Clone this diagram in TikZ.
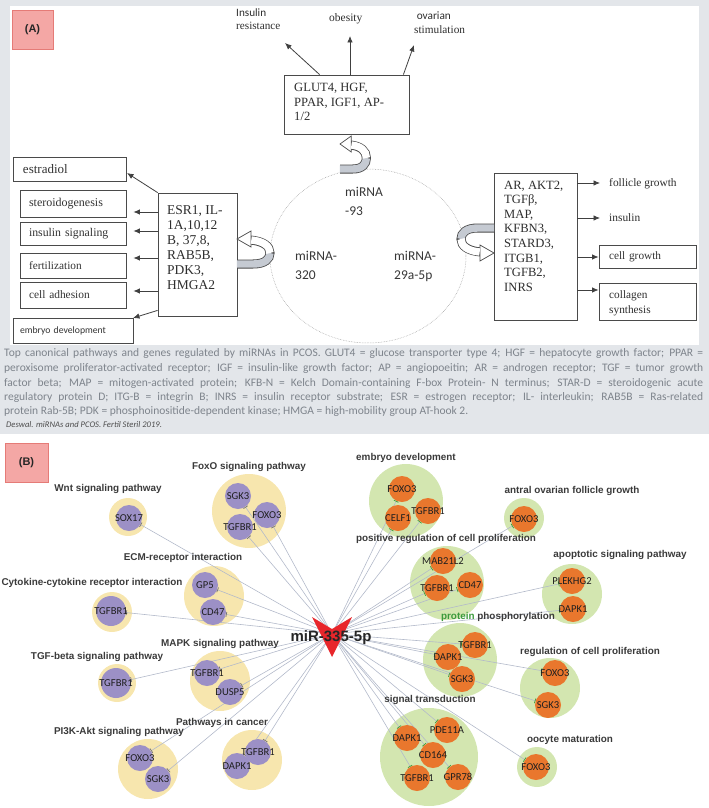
\documentclass[tikz,border=0pt]{standalone}
\usepackage{fontspec}
\setmainfont{Liberation Serif}
\newfontfamily\carl{Carlito}
\newfontfamily\lsans{Liberation Sans}
\usetikzlibrary{arrows.meta}
\definecolor{panelgray}{HTML}{E3E6EA}
\definecolor{capgray}{HTML}{7E848C}
\definecolor{boxline}{HTML}{4A4A4A}
\definecolor{ribbon}{HTML}{C5CAD2}
\definecolor{labfill}{HTML}{F4A7A5}
\definecolor{labdraw}{HTML}{E57B77}
\definecolor{ybg}{HTML}{F7E6AE}
\definecolor{purp}{HTML}{9C90C6}
\definecolor{gbg}{HTML}{D3E6B0}
\definecolor{orng}{HTML}{E9772D}
\definecolor{mirred}{HTML}{E8262B}
\definecolor{edgec}{HTML}{B3BACA}
\definecolor{teeg}{HTML}{3C9A3C}
\definecolor{pathtxt}{HTML}{3A3A3A}
\pgfdeclarelayer{back}
\pgfdeclarelayer{mid}
\pgfsetlayers{back,mid,main}
\newcommand{\setfs}[2]{\fontsize{#1}{#2}\selectfont}
\newcommand{\gn}[1]{\makebox[0pt]{#1}}
\newcommand{\capline}[1]{\makebox[699pt][s]{#1}}
\tikzset{
  abox/.style={draw=boxline, line width=0.8pt, inner sep=0pt, fill=white},
  obox/.style={abox, align=left, font=\setfs{12}{14}, text=black!80},
  ttext/.style={inner sep=0pt, align=left, anchor=north west, text=black!82},
  arr/.style={draw=black!75, line width=0.8pt, -{Latex[length=6.5pt,width=5.5pt]}},
  mirtxt/.style={inner sep=0pt, align=left, anchor=north west, font=\carl\setfs{13.5}{19}, text=black!78},
  pathlab/.style={font=\lsans\bfseries\setfs{9.9}{11}, text=pathtxt, inner sep=0pt},
  bigY/.style={circle, fill=ybg, inner sep=0pt},
  bigG/.style={circle, fill=gbg, inner sep=0pt},
  pg/.style={circle, fill=purp, minimum size=26pt, inner sep=0pt, font=\carl\setfs{10.6}{11}, text=black!88},
  og/.style={circle, fill=orng, minimum size=26pt, inner sep=0pt, font=\carl\setfs{10.6}{11}, text=black!88},
  edgeP/.style={draw=edgec, line width=0.6pt, -{Bar[width=5pt,line width=0.7pt,color=black!55]}},
  edgeO/.style={draw=edgec, line width=0.6pt, -{Bar[width=5pt,line width=0.7pt,color=teeg]}},
  panlab/.style={fill=labfill, draw=labdraw, line width=0.8pt, inner sep=0pt, font=\lsans\bfseries\setfs{11}{12}, text=black!85},
  curlarrow/.pic={
    \draw[line width=9pt, draw=boxline] (0,26) -- (16,26) .. controls (28,26) and (33,21) .. (33,15) .. controls (33,8) and (26,3) .. (13,2);
    \draw[line width=7.4pt, draw=ribbon] (-0.2,26) -- (16,26) .. controls (28,26) and (33,21) .. (33,15);
    \filldraw[fill=white, draw=boxline, line width=0.7pt] (0,1) -- (14,-7) -- (14,9) -- cycle;
    \draw[line width=7.4pt, draw=white] (33,15) .. controls (33,8) and (26,3) .. (14.3,2);
  }
}
\begin{document}
\begin{tikzpicture}[x=1pt,y=-1pt]
\useasboundingbox (0,0) rectangle (709,808);
% ---------------- Panel A ----------------
\fill[panelgray] (0,0) rectangle (709,434);
\fill[white] (10,6) rectangle (699,345);
\node[panlab, minimum width=41pt, minimum height=39pt] (labA) at (32.5,29.5) {(A)};

% central dotted circle
\draw[draw=gray!75, line width=0.5pt, dash pattern=on 0.6pt off 1pt] (368,256) ellipse [x radius=98pt, y radius=87pt];
\node[mirtxt] (m93) at (345,187) {miRNA\\-93};
\node[mirtxt] (m320) at (295,251) {miRNA-\\320};
\node[mirtxt] (m29) at (394,251) {miRNA-\\29a-5p};

% top box
\node[abox, minimum width=125pt, minimum height=59pt] (glut) at (346.5,104.5) {};
\node[ttext, font=\setfs{12.6}{14.5}] (gluttxt) at (294,83) {GLUT4, HGF,\\PPAR, IGF1, AP-\\1/2};
\node[ttext, font=\setfs{11.2}{13}] (insres) at (236,9) {{\carl Insulin}\\resistance};
\node[ttext, font=\setfs{11.5}{13}] (obes) at (329,13) {obesity};
\node[ttext, font=\setfs{11.3}{14}] (ovst) at (414,12) {{\carl\ ovarian}\\stimulation};
\coordinate (irtip) at (285,43);
\coordinate (obtip) at (350,36);
\coordinate (ovtip) at (414,45);
\draw[arr] (glut.north west) ++(36,0) coordinate (g1) -- (irtip);
\draw[arr] (glut.north -| obtip) -- (obtip);
\draw[arr] (glut.north east) ++(-6,0) coordinate (g3) -- (ovtip);

% left box
\node[abox, minimum width=79pt, minimum height=123pt] (esr) at (197.5,254.5) {};
\node[ttext, font=\setfs{13.5}{15}] (esrtxt) at (167,205) {ESR1, IL-\\1A,10,12\\B, 37,8,\\RAB5B,\\PDK3,\\HMGA2};
\node[obox, minimum width=113pt, minimum height=24pt, text width=93pt, inner xsep=10pt, font=\setfs{13}{14}] (estr) at (69.5,169) {estradiol};
\node[obox, minimum width=106pt, minimum height=27pt, text width=88pt, inner xsep=9pt] (ster) at (73,203.5) {steroidogenesis};
\node[obox, minimum width=106pt, minimum height=23pt, text width=88pt, inner xsep=9pt, font=\setfs{11.8}{14}] (insg) at (73,233.5) {insulin signaling};
\node[obox, minimum width=106pt, minimum height=25pt, text width=88pt, inner xsep=9pt, font=\setfs{11.3}{14}] (fert) at (73,265.5) {fertilization};
\node[obox, minimum width=106pt, minimum height=26pt, text width=88pt, inner xsep=9pt, font=\setfs{11.4}{14}] (cadh) at (73,295) {cell adhesion};
\node[obox, minimum width=120pt, minimum height=25pt, text width=106pt, inner xsep=7pt, font=\carl\setfs{9.7}{11}] (embr) at (73,330.5) {embryo development};
\coordinate (ea1) at (158,212); \coordinate (ea2) at (158,231); \coordinate (ea3) at (158,258); \coordinate (ea4) at (158,291);
\coordinate (estip) at (127,173);
\coordinate (embtip) at (133,318);
\draw[arr] (esr.north west) -- (estip);
\draw[arr, shorten >=7pt] (ea1) -- (ea1 -| ster.east);
\draw[arr, shorten >=7pt] (ea2) -- (ea2 -| insg.east);
\draw[arr, shorten >=7pt] (ea3) -- (ea3 -| fert.east);
\draw[arr, shorten >=7pt] (ea4) -- (ea4 -| cadh.east);
\draw[arr] (esr.south west) ++(0,-6) coordinate (eb) -- (embtip);

% right box
\node[abox, minimum width=83pt, minimum height=147pt] (arb) at (535.5,246.5) {};
\node[ttext, font=\setfs{12.6}{14.6}] (artxt) at (504,180.5) {AR, AKT2,\\TGFβ,\\MAP,\\KFBN3,\\STARD3,\\ITGB1,\\TGFB2,\\INRS};
\node[ttext, anchor=west, font=\setfs{11.4}{13}] (foll) at (609,184) {follicle growth};
\node[ttext, anchor=west, font=\setfs{11.4}{13}] (insu) at (609,218) {insulin};
\node[obox, minimum width=97pt, minimum height=23pt, text width=77pt, inner xsep=10pt, font=\setfs{11.3}{13}] (cgrow) at (647.5,256.5) {cell growth};
\node[abox, minimum width=97pt, minimum height=37pt] (coll) at (647.5,301.5) {};
\node[ttext, font=\setfs{11.3}{15}] (colltxt) at (609,290) {collagen\\synthesis};
\coordinate (ra1) at (577,183); \coordinate (ra2) at (577,218); \coordinate (ra3) at (577,257); \coordinate (ra4) at (577,290);
\draw[arr] (ra1) -- ++(23,0) coordinate (rb1);
\draw[arr] (ra2) -- ++(23,0) coordinate (rb2);
\draw[arr] (ra3) -- (ra3 -| cgrow.west);
\draw[arr] (ra4) -- (ra4 -| coll.west);

% curled hollow arrows
\pic[xscale=0.8] at (340,143) {curlarrow};
\pic at (237,238) {curlarrow};
\pic[rotate=180] at (494,254) {curlarrow};

% caption
\begin{scope}[every node/.style={inner sep=0pt, anchor=west, text=capgray, font=\carl\setfs{11.5}{12}}]
\node (cap1) at (4,353) {\capline{Top canonical pathways and genes regulated by miRNAs in PCOS. GLUT4 = glucose transporter type 4; HGF = hepatocyte growth factor; PPAR =}};
\node (cap2) at (4,368) {\capline{peroxisome proliferator-activated receptor; IGF = insulin-like growth factor; AP = angiopoeitin; AR = androgen receptor; TGF = tumor growth}};
\node (cap3) at (4,383) {\capline{factor beta; MAP = mitogen-activated protein; KFB-N = Kelch Domain-containing F-box Protein- N terminus; STAR-D = steroidogenic acute}};
\node (cap4) at (4,397) {\capline{regulatory protein D; ITG-B = integrin B; INRS = insulin receptor substrate; ESR = estrogen receptor; IL- interleukin; RAB5B = Ras-related}};
\node (cap5) at (4,411) {protein Rab-5B; PDK = phosphoinositide-dependent kinase; HMGA = high-mobility group AT-hook 2.};
\node[text=black!70, font=\carl\itshape\setfs{8.6}{10}] (cap6) at (6,425) {Deswal. miRNAs and PCOS. Fertil Steril 2019.};
\end{scope}

% ---------------- Panel B ----------------
\node[panlab, minimum width=43pt, minimum height=39pt] (labB) at (26.5,462.5) {(B)};

\begin{pgfonlayer}{back}
\node[bigY, minimum size=38pt] (wnt) at (128,517) {};
\node[bigY, minimum size=74pt] (foxo) at (249,511) {};
\node[bigY, minimum size=60pt] (ecm) at (214,596) {};
\node[bigY, minimum size=40pt] (cyto) at (112,612) {};
\node[bigY, minimum size=60pt] (mapk) at (220,681) {};
\node[bigY, minimum size=38pt] (tgfb) at (117,683) {};
\node[bigY, minimum size=60pt] (pi3k) at (148,769) {};
\node[bigY, minimum size=60pt] (canc) at (252,760) {};
\node[bigG, minimum size=74pt] (emb) at (406,501) {};
\node[bigG, minimum size=40pt] (antr) at (524,518) {};
\node[bigG, minimum size=74pt] (posr) at (447,583) {};
\node[bigG, minimum size=60pt] (apop) at (572,594) {};
\node[bigG, minimum size=74pt] (prot) at (460,660) {};
\node[bigG, minimum size=60pt] (regc) at (550,688) {};
\node[bigG, minimum size=98pt] (sigt) at (429,757) {};
\node[bigG, minimum size=40pt] (oocy) at (537,767) {};
\end{pgfonlayer}

% pathway labels
\node[pathlab] (lwnt) at (108,489) {Wnt signaling pathway};
\node[pathlab] (lfoxo) at (249,467) {FoxO signaling pathway};
\node[pathlab] (lecm) at (183,558) {ECM-receptor interaction};
\node[pathlab] (lcyto) at (92,583) {Cytokine-cytokine receptor interaction};
\node[pathlab] (lmapk) at (220,644) {MAPK signaling pathway};
\node[pathlab] (ltgfb) at (97,657) {TGF-beta signaling pathway};
\node[pathlab] (lpi3k) at (119,732) {PI3K-Akt signaling pathway};
\node[pathlab] (lcanc) at (222,723) {Pathways in cancer};
\node[pathlab] (lemb) at (406,458) {embryo development};
\node[pathlab] (lantr) at (572,491) {antral ovarian follicle growth};
\node[pathlab] (lposr) at (446,539) {positive regulation of cell proliferation};
\node[pathlab] (lapop) at (620,555) {apoptotic signaling pathway};
\node[pathlab] (lprot) at (498,617) {\textcolor{teeg}{protein} phosphorylation};
\node[pathlab] (lregc) at (590,652) {regulation of cell proliferation};
\node[pathlab] (lsigt) at (430,700) {signal transduction};
\node[pathlab] (loocy) at (570,740) {oocyte maturation};

% gene nodes (purple)
\node[pg] (sox17) at (129,518) {\gn{SOX17}};
\node[pg] (fsgk3) at (238,496) {\gn{SGK3}};
\node[pg] (ffoxo3) at (267,515) {\gn{FOXO3}};
\node[pg] (ftgfbr1) at (240,527) {\gn{TGFBR1}};
\node[pg] (egp5) at (205,585) {\gn{GP5}};
\node[pg] (ecd47) at (213,612) {\gn{CD47}};
\node[pg, minimum size=30pt] (ctgfbr1) at (111,611) {\gn{TGFBR1}};
\node[pg] (mtgfbr1) at (207,673) {\gn{TGFBR1}};
\node[pg] (mdusp5) at (230,692) {\gn{DUSP5}};
\node[pg, minimum size=30pt] (ttgfbr1) at (116,683) {\gn{TGFBR1}};
\node[pg] (pfoxo3) at (140,758) {\gn{FOXO3}};
\node[pg] (psgk3) at (158,779) {\gn{SGK3}};
\node[pg] (ktgfbr1) at (258,752) {\gn{TGFBR1}};
\node[pg] (kdapk1) at (237,766) {\gn{DAPK1}};
% gene nodes (orange)
\node[og] (emfoxo3) at (402,489) {\gn{FOXO3}};
\node[og] (emcelf1) at (398,518) {\gn{CELF1}};
\node[og] (emtgfbr1) at (428,511) {\gn{TGFBR1}};
\node[og] (anfoxo3) at (524,519) {\gn{FOXO3}};
\node[og] (prmab) at (443,561) {\gn{MAB21L2}};
\node[og] (prtgfbr1) at (437,588) {\gn{TGFBR1}};
\node[og] (prcd47) at (470,585) {\gn{CD47}};
\node[og] (applek) at (572,581) {\gn{PLEKHG2}};
\node[og] (apdapk1) at (573,609) {\gn{DAPK1}};
\node[og] (pptgfbr1) at (475,645) {\gn{TGFBR1}};
\node[og] (ppdapk1) at (448,657) {\gn{DAPK1}};
\node[og] (ppsgk3) at (462,679) {\gn{SGK3}};
\node[og] (rcfoxo3) at (555,673) {\gn{FOXO3}};
\node[og] (rcsgk3) at (548,705) {\gn{SGK3}};
\node[og] (stdapk1) at (407,738) {\gn{DAPK1}};
\node[og] (stpde) at (447,730) {\gn{PDE11A}};
\node[og] (stcd164) at (433,755) {\gn{CD164}};
\node[og] (sttgfbr1) at (417,778) {\gn{TGFBR1}};
\node[og] (stgpr) at (458,777) {\gn{GPR78}};
\node[og] (oofoxo3) at (536,767) {\gn{FOXO3}};

% centre
\coordinate (mc) at (332,634);
\begin{pgfonlayer}{mid}
\foreach \g in {sox17,fsgk3,ffoxo3,ftgfbr1,egp5,ecd47,ctgfbr1,mtgfbr1,mdusp5,ttgfbr1,pfoxo3,psgk3,ktgfbr1,kdapk1}
  \draw[edgeP] (mc) -- (\g);
\foreach \g in {emfoxo3,emcelf1,emtgfbr1,anfoxo3,prmab,prtgfbr1,prcd47,applek,apdapk1,pptgfbr1,ppdapk1,ppsgk3,rcfoxo3,rcsgk3,stdapk1,stpde,stcd164,sttgfbr1,stgpr,oofoxo3}
  \draw[edgeO] (mc) -- (\g);
\end{pgfonlayer}
\fill[mirred] (312,617) -- (332,629) -- (352,617) -- (332,657) -- cycle;
\node[inner sep=0pt, font=\lsans\bfseries\setfs{15}{16}, text=black!85] (mir) at (331,638) {miR-335-5p};
\end{tikzpicture}
\end{document}
